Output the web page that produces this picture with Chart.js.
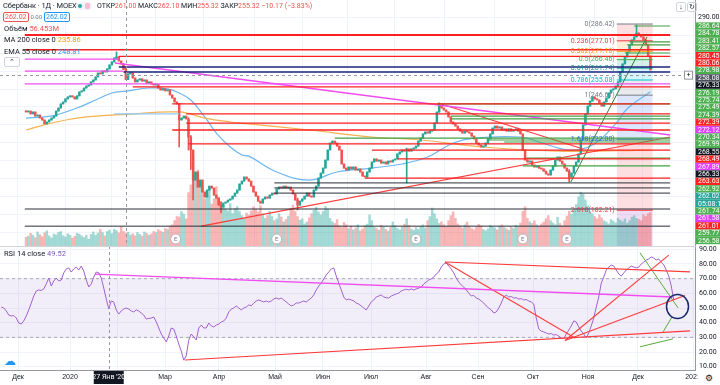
<!DOCTYPE html>
<html>
<head>
<meta charset="utf-8">
<script src="https://cdn.jsdelivr.net/npm/chart.js@4.4.1/dist/chart.umd.min.js"></script>
<style>
  body { margin: 0; background: #fff; font-family: Roboto, "Noto Sans", sans-serif; }
  #wrap { position: relative; width: 720px; height: 385px; overflow: hidden; }
  #price { position: absolute; left: 0; top: 0; }
  #rsi { position: absolute; left: 0; top: 246px; }
  .t { position: absolute; white-space: nowrap; font-size: 7.5px; color: #131722; line-height: 10px; }
  .g { color: #787b86; }
  .r { color: #ef5350; }
  .box { display: inline-block; border: 1px solid; border-radius: 2px; padding: 0 1px; line-height: 8px; font-size: 7px; }
</style>
</head>
<body>
<div id="wrap">
  <canvas id="price" width="720" height="246"></canvas>
  <canvas id="rsi" width="720" height="139"></canvas>

  <div class="t" style="left:3px;top:1px;font-size:7.5px;letter-spacing:-0.1px">Сбербанк · 1Д · MOEX</div>
  <div class="t" style="left:76px;top:2px;width:16px;height:8px;background:#f0f3fa;border-radius:4px"></div>
  <div class="t" style="left:78px;top:4px;width:4px;height:4px;background:#26a69a;border-radius:2px"></div>
  <div class="t" style="left:85px;top:3px;width:5px;height:6px;background:#f8bbd0;border-radius:2px"></div>
  <div class="t" style="left:97px;top:1px;font-size:7px">ОТКР<span class="r">261.00</span> МАКС<span class="r">262.10</span> МИН<span class="r">255.32</span> ЗАКР<span class="r">255.32</span> <span class="r">−10.17 (−3.83%)</span></div>
  <div class="t" style="left:3px;top:12px"><span class="box" style="color:#ef5350;border-color:#ef5350">262.02</span> <span class="g" style="font-size:6px">0.00</span> <span class="box" style="color:#2196f3;border-color:#2196f3">262.02</span></div>
  <div class="t" style="left:4px;top:24px">Объём <span class="r">56.453M</span></div>
  <div class="t" style="left:4px;top:35px">MA 200 close 0 <span style="color:#ff9800">235.86</span></div>
  <div class="t" style="left:4px;top:47px">EMA 55 close 0 <span style="color:#2196f3">248.81</span></div>
  <div class="t" style="left:4px;top:57px;width:14px;height:8px;border:1px solid #d1d4dc;border-radius:2px;background:#fff;text-align:center;line-height:9px;font-size:7px">⌃</div>
  <div class="t" style="left:4px;top:249px">RSI 14 close <span style="color:#7e57c2">49.52</span></div>
  <div class="t" style="left:4px;top:356px;font-size:12px;color:#2196f3">☁</div>
  <div class="t" style="left:676px;top:2px;width:8px;height:8px;border:1px solid #d1d4dc;border-radius:2px;text-align:center;line-height:8px;font-size:7px">↓</div>
  <div class="t" style="left:687px;top:2px;width:8px;height:8px;border:1px solid #d1d4dc;border-radius:2px;text-align:center;line-height:8px;font-size:7px">↻</div>
  <div class="t" style="left:698px;top:371px;width:22px;height:14px;background:#fff;text-align:center;line-height:14px;font-size:9px">⚙</div>
  <div class="t" style="left:0;top:246px;width:696px;height:1px;background:#d1d4dc"></div>
</div>

<script>
// CANDLES (daily closes, Nov 2019 - Dec 2020)

const firstOpen = 237.8;
const closes = [
  237.2,237.7,236.1,237.2,234.9,235.5,233.8,232.7,230.5,231.6,
  232.7,233.8,234.9,237.7,239.4,241.7,242.8,244.5,245.6,246.2,
  245.6,244.5,246.2,248.4,249.0,250.6,251.7,252.3,254.0,255.1,
  256.8,259.0,258.5,260.1,259.6,261.3,263.5,265.2,267.4,268.0,
  265.7,264.1,261.0,255.3,258.5,259.0,256.2,254.0,255.1,255.7,
  254.5,255.1,253.4,254.0,252.9,252.3,252.6,250.6,249.5,250.1,
  249.0,249.5,246.7,245.0,242.8,241.7,232.7,233.8,234.9,233.3,
  223.2,215.9,199.1,203.6,195.2,199.1,192.4,189.6,193.5,195.7,
  194.6,190.7,189.0,185.1,184.0,186.2,186.8,187.9,188.5,190.1,
  191.8,193.5,196.9,198.5,200.8,199.7,198.5,195.7,192.4,190.1,
  187.3,186.2,188.5,189.6,189.0,190.7,191.8,191.3,194.1,195.2,
  194.6,195.7,194.6,195.2,193.5,191.3,187.9,185.1,187.3,188.5,
  190.1,191.8,190.1,189.6,193.5,195.7,200.2,203.0,205.8,210.3,
  215.9,219.8,220.9,219.8,218.1,215.9,208.1,205.8,204.7,206.4,
  205.3,206.4,204.7,205.3,203.6,201.3,200.8,203.6,205.8,209.2,
  210.9,209.7,210.3,208.6,209.2,208.1,209.7,209.2,210.3,210.9,
  213.7,214.8,215.9,215.3,216.5,215.3,216.5,217.0,218.1,220.9,
  222.6,224.9,226.0,225.4,226.5,227.1,231.0,237.2,240.5,239.4,
  238.3,237.2,234.4,231.6,230.5,229.3,227.7,226.5,225.4,226.5,
  226.0,225.4,223.7,222.1,219.8,218.7,217.6,218.1,219.8,222.1,
  224.9,228.2,229.3,228.2,228.8,227.1,227.7,226.5,227.7,226.5,
  227.1,227.7,226.5,224.9,215.9,210.3,209.2,209.7,207.5,206.4,
  206.9,205.8,205.3,204.1,202.5,201.9,204.7,206.9,210.3,212.0,
  209.7,208.1,205.8,204.1,200.8,203.0,206.9,209.2,213.7,221.5,
  229.9,236.1,240.5,243.3,245.6,244.5,243.9,242.2,240.5,242.8,
  245.0,247.8,249.5,250.1,251.7,254.0,259.6,264.1,268.0,270.8,
  274.7,277.5,279.2,281.4,280.3,279.2,277.5,274.7,268.5,260.7
];
// long shadows that stand out
const wickIdx  = [39, 43, 66, 70, 71, 72, 84, 117, 164, 178, 234, 263];
const wickHigh = [270.8, 262.1, 242.0, 234.0, 224.0, 206.0, 187.0, 189.0, 217.0, 242.2, 205.0, 285.9];
const wickLow  = [266.5, 255.3, 217.6, 215.9, 205.0, 188.0, 180.7, 182.4, 197.5, 237.0, 198.0, 280.5];

// volume, millions
const volumes = [
  38,42,55,47,36,61,49,40,57,66,44,35,52,48,59,63,45,39,53,47,34,42,56,51,44,37,47,29,
  50,61,47,56,72,58,44,63,69,54,73,67,57,82,64,56,60,47,53,44,59,51,43,61,55,47,52,63,58,71,65,60,76,72,86,92,110,128,
  126,150,138,118,232,265,386,300,330,285,250,205,222,245,182,205,258,212,190,172,160,152,184,141,163,171,150,132,121,143,
  135,152,170,160,148,175,140,120,132,150,128,110,118,140,126,105,115,130,162,178,150,128,112,118,96,104,122,140,155,168,148,135,150,172,160,
  120,105,98,115,88,80,102,92,75,86,70,78,92,66,74,88,95,135,110,82,76,69,90,84,72,65,80,104,88,76,70,82,95,118,90,74,68,80,72,85,
  92,78,110,128,165,140,118,98,105,92,84,110,132,148,120,96,88,78,92,104,86,76,70,82,94,88,72,66,75,90,84,78,70,86,92,80,74,68,82,76,90,84,100,
  150,170,120,105,98,110,92,86,96,104,118,132,110,100,92,125,98,88,110,130,150,138,160,180,213,234,225,200,175,150,
  140,128,118,135,122,110,104,96,115,108,100,120,112,105,118,98,110,125,132,120,115,110,135,128,140,146
];

// moving averages, read at a few days
const ma200Idx = [0, 13, 26, 43, 66, 77, 88, 96, 122, 149, 170, 197, 232, 269];
const ma200Val = [227.1, 231.6, 234.4, 235.86, 237.2, 233.8, 231.6, 230.5, 227.1, 223.2, 221.5, 217.6, 215.2, 215.9];
const ema55Idx = [0, 8, 13, 22, 30, 37, 43, 53, 61, 66, 71, 77, 82, 88, 93, 96, 108, 122, 134, 149, 162, 173, 184, 193, 213, 221, 234, 244, 254, 259, 269];
const ema55Val = [233.8, 234.4, 235.5, 239.4, 243.9, 247.8, 248.81, 250.6, 250.1, 247.8, 243.9, 234.4, 225.4, 217.6, 213.1, 212.5, 203.6, 199.1, 203.6, 205.8, 208.1, 212.0, 219.8, 222.6, 223.2, 220.4, 215.9, 218.7, 230.5, 239.0, 248.5];

// RSI 14
const rsi = [
  50.7,50.0,48.0,45.2,44.6,44.9,43.2,39.8,39.1,41.2,
  44.6,48.7,53.4,58.2,61.6,62.3,62.0,63.0,66.4,70.4,
  65.0,68.4,70.4,68.4,69.1,73.9,76.6,77.3,74.5,76.6,
  77.9,75.9,78.6,75.2,69.1,64.3,66.4,71.1,74.5,74.0,
  70.4,63.6,56.1,49.5,54.8,54.1,48.7,45.9,48.0,49.3,
  50.0,49.3,48.0,47.3,48.7,48.0,46.6,45.2,42.5,42.9,
  43.2,43.9,40.5,36.4,32.3,29.6,26.9,31.0,36.4,35.7,
  31.0,25.5,20.7,14.5,17.5,28.2,32.3,30.3,28.2,36.4,
  38.4,36.4,36.4,39.8,37.8,37.1,38.4,39.1,40.5,41.2,
  43.2,47.3,49.3,50.0,51.4,50.0,48.7,50.0,50.7,52.1,
  51.5,53.4,54.8,55.5,54.8,54.1,54.8,54.1,54.8,56.1,
  56.8,56.1,56.8,55.5,54.1,52.7,51.4,52.1,53.4,53.4,
  54.1,54.8,54.1,55.5,56.8,58.9,62.3,65.0,67.0,69.8,
  72.5,74.5,76.6,77.3,71.8,67.0,62.3,57.5,55.5,56.1,
  55.5,54.8,53.4,52.7,51.4,50.0,48.7,51.4,54.1,55.5,
  57.5,58.2,58.9,57.5,57.0,56.8,58.2,58.9,59.6,60.2,
  61.6,62.3,62.8,62.3,63.0,62.3,63.0,63.6,64.3,66.4,
  67.7,69.1,69.8,71.1,73.2,74.5,77.9,80.0,80.7,78.6,
  76.6,73.9,70.4,67.7,65.7,64.3,62.3,60.2,58.2,58.6,
  56.8,56.1,54.8,53.4,51.4,50.0,48.7,46.6,47.3,50.0,
  53.4,57.5,58.9,57.5,57.8,56.8,57.0,56.1,56.4,55.5,
  55.8,54.8,54.1,52.7,43.2,35.7,34.3,33.7,33.0,32.3,
  32.6,31.6,31.9,30.9,29.6,29.2,32.3,35.0,37.8,41.2,
  40.5,37.1,34.3,32.3,29.6,33.0,37.8,43.2,50.7,57.5,
  67.0,71.1,75.9,77.9,79.3,78.6,75.9,73.2,71.8,73.9,
  75.9,77.3,78.6,77.9,77.3,77.9,80.0,81.3,82.7,83.4,
  84.8,84.1,82.7,83.4,81.3,79.3,75.9,71.8,65.0,55.5
];

// x axis: trading-day index of month starts
const monthTicks = [6.7, 27.5, 46.3, 65.5, 87.1, 109.5, 128.7, 147.9, 169.9, 190.7, 212.7, 234.7, 254.7, 276.7];
const monthLabels = ["Дек", "2020", "", "Мар", "Апр", "Май", "Июн", "Июл", "Авг", "Сен", "Окт", "Ноя", "Дек", "2021"];
const priceGrid = [170, 180, 190, 200, 210, 220, 230, 240, 250, 260, 270, 280, 290];
const rsiTicks = [10, 20, 30, 40, 50, 60, 70, 80, 90];
const earningsIdx = [64.5, 108, 168, 214, 233];

// crosshair (27 Jan 2020)
const crossIdx = 43;
const crossPrice = 258.08;
const crossDate = "27 Янв '20";

// horizontal levels drawn on the chart: price, first day
const redLevels = [280.45, 280.06, 272.0, 268.3, 251.2, 241.7, 236.1, 231.0, 227.1, 219.3, 215.9, 210.9, 200.2];
const redFrom   = [-0.5, -0.5, -0.5, 40, 46, 63, 69, 69, 63, 70, 149, 160, 146];
const magLevels = [266.8, 260.1, 252.9];
const magFrom   = [-0.5, -0.5, -0.5];
const magTo     = [40, 42, 277.5];
const navyLevels = [262.4, 259.6];
const navyFrom   = [40, 42];
const blackLevels = [197.5, 194.7, 191.8, 182.9, 173.3];
const blackFrom   = [107, 107, 107, -0.5, -0.5];
const greenLevels = [285.3, 276.4, 274.7, 270.2, 241.7, 234.9, 233.3, 222.6, 221.5, 220.4, 211.4, 207.0];
const greenFrom   = [262, 260, 259, 258, 177, 183, 183, 133, 199, 206, 215, 214];

// trend lines: [day1, price1, day2, price2]
const magTrends = [[38.3, 264.6, 277.5, 224.3]];
const redTrends = [[75.5, 173.3, 277.5, 223.2], [177.5, 242.2, 240, 216.5]];
const greenTrends = [[234.7, 198.0, 267.5, 279.2]];

// fibonacci retracement
const fibStart = 254.5, fibEnd = 270;
const fibLevels = [0, 0.236, 0.382, 0.5, 0.618, 0.786, 1, 1.618, 2.618, 3.618];
const fibPrices = [286.42, 277.01, 271.18, 266.46, 261.74, 255.08, 246.61, 222.0, 182.21, 142.4];

// right axis price tags (stacked)
const axisTags = ["286.64","284.78","283.41","282.57","280.45","280.06","278.98","258.08","276.33","276.19",
  "275.74","275.49","274.39","272.39","272.12","270.34","269.99","268.55","268.49","267.89",
  "266.33","263.63","262.92","262.02","05:08:19","261.74","261.58","261.01","259.77","256.58"];
const axisTagKind = ["g","g","g","g","r","r","g","x","k","g","g","g","g","r","m","g","g","k","r","m",
  "k","r","g","c","c","g","m","r","g","g"];

// RSI drawings: [day1, rsi1, day2, rsi2]
const rsiMagTrends = [[37.5, 73.1, 268.5, 57.5]];
const rsiRedTrends = [[73.5, 14.6, 275.5, 34.4], [177.5, 81.4, 275.5, 74.6], [177.5, 81.4, 229.5, 29.6],
  [225.5, 27.9, 273.5, 58.6], [225.5, 27.9, 267, 86]];
const rsiGreenTrends = [[255.5, 87.6, 270.7, 50.1], [264.7, 33.7, 268.3, 43.9], [255.5, 23.6, 268.7, 29.0]];
const rsiCircle = [270.5, 51];

// ------------------------------------------------------------

const UP = "#26a69a", DN = "#ef5350";
const opens = closes.map((c, i) => (i === 0 ? firstOpen : closes[i - 1]));
const highs = closes.map((c, i) => Math.max(c, opens[i]));
const lows = closes.map((c, i) => Math.min(c, opens[i]));
wickIdx.forEach((d, k) => {
  highs[d] = Math.max(highs[d], wickHigh[k]);
  lows[d] = Math.min(lows[d], wickLow[k]);
});
const isUp = closes.map((c, i) => c >= opens[i]);

const XMIN = -0.5, XMAX = 277.5;

function seg(x1, y1, x2, y2, color, w, extra) {
  return Object.assign({
    type: "line", data: [{ x: x1, y: y1 }, { x: x2, y: y2 }],
    borderColor: color, borderWidth: w, pointRadius: 0, fill: false, order: 1
  }, extra || {});
}

const priceSets = [];
redLevels.forEach((p, k) => priceSets.push(seg(redFrom[k], p, XMAX, p, "#ff1f1f", 1.3)));
magLevels.forEach((p, k) => priceSets.push(seg(magFrom[k], p, magTo[k], p, "#f04cf0", 1.3)));
navyLevels.forEach((p, k) => priceSets.push(seg(navyFrom[k], p, XMAX, p, "#1a237e", 1.6)));
blackLevels.forEach((p, k) => priceSets.push(seg(blackFrom[k], p, XMAX, p, "#2a2e39", 1)));
greenLevels.forEach((p, k) => priceSets.push(seg(greenFrom[k], p, XMAX, p, "#43a047", 1.2)));
priceSets.push(seg(38, 236.1, 66, 236.1, "#90caf9", 1.2));
magTrends.forEach(t => priceSets.push(seg(t[0], t[1], t[2], t[3], "#f04cf0", 1.3)));
redTrends.forEach(t => priceSets.push(seg(t[0], t[1], t[2], t[3], "#ff3b3b", 1.1)));
greenTrends.forEach(t => priceSets.push(seg(t[0], t[1], t[2], t[3], "#2e7d32", 1)));

// fib levels and zones
const fibColors = ["#787b86", "#f23645", "#ff9800", "#4caf50", "#089981", "#00bcd4", "#787b86", "#2962ff", "#f23645", "#9c27b0"];
function alpha(hex, a) {
  const n = parseInt(hex.slice(1), 16);
  return `rgba(${n >> 16},${(n >> 8) & 255},${n & 255},${a})`;
}
fibPrices.forEach((p, k) => {
  priceSets.push(seg(fibStart, p, fibEnd, p, fibColors[k], 1));
  if (k > 0) {
    priceSets.push({
      type: "line", data: [{ x: fibStart, y: fibPrices[k - 1] }, { x: fibEnd, y: fibPrices[k - 1] }],
      borderWidth: 0, pointRadius: 0, fill: { value: p },
      backgroundColor: alpha(fibColors[k], 0.16), order: 9
    });
  }
});

priceSets.push({
  type: "line", data: ma200Idx.map((d, k) => ({ x: d, y: ma200Val[k] })),
  borderColor: "#f5b04f", borderWidth: 1.2, pointRadius: 0, tension: 0.4, order: 3
});
priceSets.push({
  type: "line", data: ema55Idx.map((d, k) => ({ x: d, y: ema55Val[k] })),
  borderColor: "#6cb6f2", borderWidth: 1.2, pointRadius: 0, tension: 0.4, order: 3
});

priceSets.push({
  type: "bar", data: closes.map((c, i) => ({ x: i, y: [lows[i], highs[i]] })),
  backgroundColor: isUp.map(u => (u ? UP : DN)), barThickness: 1, grouped: false, order: 2
});
priceSets.push({
  type: "bar", data: closes.map((c, i) => ({ x: i, y: [opens[i], c] })),
  backgroundColor: isUp.map(u => (u ? UP : DN)), barThickness: 1.8, minBarLength: 1, grouped: false, order: 2
});
priceSets.push({
  type: "bar", yAxisID: "vol", data: volumes.map((v, i) => ({ x: i, y: v })),
  backgroundColor: isUp.map(u => (u ? "rgba(38,166,154,0.42)" : "rgba(239,83,80,0.42)")),
  barThickness: 1.8, grouped: false, order: 8
});

const tagColors = { g: "#4caf50", r: "#f22", k: "#131722", m: "#e040fb", c: "#26a69a", x: "#4c525e" };

const priceDecor = {
  id: "priceDecor",
  afterDatasetsDraw(chart) {
    const { ctx, chartArea: a, scales: { x, y } } = chart;
    ctx.save();
    ctx.font = "7px Roboto";
    ctx.textAlign = "right";
    ctx.textBaseline = "middle";
    fibPrices.forEach((p, k) => {
      const py = y.getPixelForValue(p);
      if (py > a.bottom) return;
      ctx.fillStyle = fibColors[k];
      ctx.fillText(fibLevels[k] + "(" + p.toFixed(2) + ")", x.getPixelForValue(fibStart) - 2, py);
    });
    // earnings marks
    earningsIdx.forEach(d => {
      const ex = x.getPixelForValue(d), ey = a.bottom - 7;
      ctx.beginPath();
      ctx.arc(ex, ey, 5, 0, Math.PI * 2);
      ctx.fillStyle = "#fff"; ctx.fill();
      ctx.strokeStyle = "#b2b5be"; ctx.lineWidth = 1; ctx.stroke();
      ctx.fillStyle = "#787b86"; ctx.textAlign = "center"; ctx.font = "6px Roboto";
      ctx.fillText("E", ex, ey + 0.5);
    });
    // crosshair
    ctx.setLineDash([3, 3]);
    ctx.strokeStyle = "#9598a1";
    ctx.lineWidth = 1;
    const cx = Math.round(x.getPixelForValue(crossIdx)) + 0.5;
    ctx.beginPath(); ctx.moveTo(cx, a.top); ctx.lineTo(cx, a.bottom); ctx.stroke();
    const cy = Math.round(y.getPixelForValue(crossPrice)) + 0.5;
    ctx.beginPath(); ctx.moveTo(a.left, cy); ctx.lineTo(a.right, cy); ctx.stroke();
    ctx.restore();
  },
  afterDraw(chart) {
    const { ctx, chartArea: a, scales: { y } } = chart;
    ctx.save();
    ctx.font = "7px Roboto";
    ctx.textBaseline = "middle";
    ctx.textAlign = "left";
    ctx.fillStyle = "#131722";
    ctx.fillText("290.00", a.right + 3, y.getPixelForValue(290));
    axisTags.forEach((t, k) => {
      const yc = 26 + k * 7.4;
      ctx.fillStyle = tagColors[axisTagKind[k]];
      ctx.fillRect(a.right + 1, yc - 3.6, 25, 7.2);
      ctx.fillStyle = "#fff";
      ctx.fillText(t, a.right + 3, yc + 0.3);
    });
    // crosshair "+" button
    const cy = y.getPixelForValue(crossPrice);
    ctx.fillStyle = "#fff";
    ctx.strokeStyle = "#9598a1";
    ctx.fillRect(a.right - 11, cy - 4, 9, 9);
    ctx.strokeRect(a.right - 10.5, cy - 3.5, 8, 8);
    ctx.fillStyle = "#131722";
    ctx.textAlign = "center";
    ctx.fillText("+", a.right - 6.5, cy + 0.5);
    ctx.restore();
  }
};

new Chart(document.getElementById("price"), {
  type: "bar",
  data: { datasets: priceSets },
  options: {
    responsive: false, animation: false, events: [],
    layout: { padding: 0 },
    plugins: { legend: { display: false }, tooltip: { enabled: false } },
    scales: {
      x: {
        type: "linear", min: XMIN, max: XMAX,
        afterBuildTicks: s => { s.ticks = monthTicks.map(v => ({ value: v })); },
        ticks: { display: false },
        grid: { color: "#f0f3fa", drawTicks: false },
        border: { display: false },
        afterFit: s => { s.height = 0; }
      },
      y: {
        position: "right", min: 162.2, max: 299.85,
        afterBuildTicks: s => { s.ticks = priceGrid.map(v => ({ value: v })); },
        ticks: { display: false },
        grid: { color: "#f0f3fa", drawTicks: false },
        border: { color: "#9598a1" },
        afterFit: s => { s.width = 25; }
      },
      vol: { display: false, min: 0, max: 1068 }
    }
  },
  plugins: [priceDecor]
});

// RSI PANE

const rsiSets = [];
rsiSets.push({
  type: "line", data: [{ x: XMIN, y: 70 }, { x: XMAX, y: 70 }],
  borderColor: "rgba(120,123,134,0.6)", borderDash: [3, 3], borderWidth: 1, pointRadius: 0,
  fill: { value: 30 }, backgroundColor: "rgba(126,87,194,0.1)", order: 5
});
rsiSets.push(seg(XMIN, 30, XMAX, 30, "rgba(120,123,134,0.6)", 1, { borderDash: [3, 3], order: 5 }));
rsiSets.push({
  type: "line", data: rsi.map((v, i) => ({ x: i, y: v })),
  borderColor: "#a35fd0", borderWidth: 1, pointRadius: 0, order: 2
});
rsiMagTrends.forEach(t => rsiSets.push(seg(t[0], t[1], t[2], t[3], "#f04cf0", 1.3)));
rsiRedTrends.forEach(t => rsiSets.push(seg(t[0], t[1], t[2], t[3], "#ff3b3b", 1.1)));
rsiGreenTrends.forEach(t => rsiSets.push(seg(t[0], t[1], t[2], t[3], "#5aa83c", 1)));

const rsiDecor = {
  id: "rsiDecor",
  afterDatasetsDraw(chart) {
    const { ctx, chartArea: a, scales: { x, y } } = chart;
    ctx.save();
    ctx.strokeStyle = "#1a2a6c";
    ctx.lineWidth = 1.5;
    ctx.beginPath();
    ctx.ellipse(x.getPixelForValue(rsiCircle[0]), y.getPixelForValue(rsiCircle[1]), 11, 12, 0, 0, Math.PI * 2);
    ctx.stroke();
    ctx.setLineDash([3, 3]);
    ctx.strokeStyle = "#9598a1";
    ctx.lineWidth = 1;
    const cx = Math.round(x.getPixelForValue(crossIdx)) + 0.5;
    ctx.beginPath(); ctx.moveTo(cx, a.top); ctx.lineTo(cx, a.bottom); ctx.stroke();
    ctx.restore();
  },
  afterDraw(chart) {
    const { ctx, chartArea: a, scales: { x, y } } = chart;
    ctx.save();
    ctx.font = "7px Roboto";
    ctx.textBaseline = "middle";
    ctx.textAlign = "left";
    ctx.fillStyle = "#131722";
    rsiTicks.forEach(v => ctx.fillText(v.toFixed(2), a.right + 4, y.getPixelForValue(v)));
    const cx = x.getPixelForValue(crossIdx);
    ctx.fillStyle = "#131722";
    ctx.fillRect(cx - 15, a.bottom + 1, 30, 13);
    ctx.fillStyle = "#fff";
    ctx.textAlign = "center";
    ctx.fillText(crossDate, cx, a.bottom + 7.5);
    ctx.restore();
  }
};

new Chart(document.getElementById("rsi"), {
  type: "line",
  data: { datasets: rsiSets },
  options: {
    responsive: false, animation: false, events: [],
    layout: { padding: 0 },
    plugins: { legend: { display: false }, tooltip: { enabled: false } },
    scales: {
      x: {
        type: "linear", min: XMIN, max: XMAX,
        afterBuildTicks: s => { s.ticks = monthTicks.map(v => ({ value: v })); },
        ticks: { autoSkip: false, maxRotation: 0, padding: 3, color: "#131722", font: { size: 7 },
                 callback: (v, k) => monthLabels[k] },
        grid: { color: "#f0f3fa", drawTicks: false },
        border: { color: "#9598a1" },
        afterFit: s => { s.height = 15; }
      },
      y: {
        position: "right", min: 7.78, max: 92.25,
        afterBuildTicks: s => { s.ticks = rsiTicks.map(v => ({ value: v })); },
        ticks: { display: false },
        grid: { color: "#f0f3fa", drawTicks: false },
        border: { color: "#9598a1" },
        afterFit: s => { s.width = 25; }
      }
    }
  },
  plugins: [rsiDecor]
});
</script>
</body>
</html>
